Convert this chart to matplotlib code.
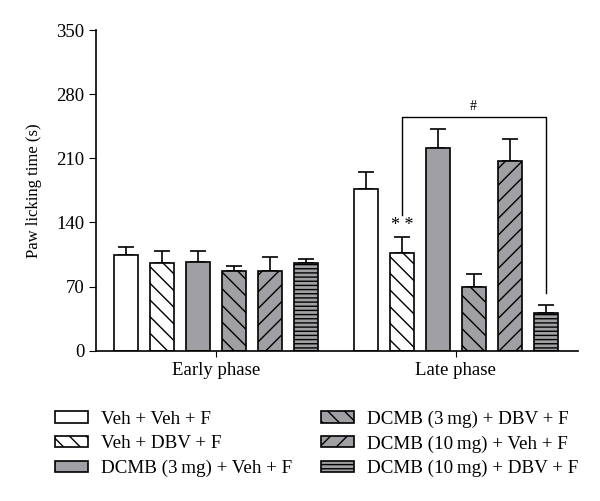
from matplotlib import pyplot as plt
from matplotlib.patches import Patch
import numpy as np

plt.rcParams['font.family'] = ['Liberation Serif', 'DejaVu Serif']

groups = ['Early phase', 'Late phase']
labels = ['Veh + Veh + F', 'Veh + DBV + F', 'DCMB (3\u2009mg) + Veh + F',
          'DCMB (3\u2009mg) + DBV + F', 'DCMB (10\u2009mg) + Veh + F', 'DCMB (10\u2009mg) + DBV + F']
early_mean = [104.5, 95.7, 97.1, 87.3, 86.7, 95.4]
early_sem = [8.4, 13.0, 11.7, 5.5, 15.6, 4.7]
late_mean = [176.1, 106.3, 220.9, 69.5, 207.4, 41.1]
late_sem = [18.6, 18.1, 21.4, 14.2, 24.0, 9.1]

gray = '#a0a0a4'
faces = ['white', 'white', gray, gray, gray, gray]
hatches = [None, '\\\\', None, '\\\\', '//', '----']

plt.rcParams['hatch.linewidth'] = 1.0

fig = plt.figure(figsize=(6, 5.01), dpi=100)
ax = fig.add_axes([0.16, 0.30, 0.803, 0.64])

width = 0.667
offset = 6.667
for i in range(6):
    for g, (means, sems) in enumerate([(early_mean, early_sem), (late_mean, late_sem)]):
        x = i + g * offset
        ax.bar(x, means[i], width, color=faces[i], edgecolor='black', linewidth=1.2,
               hatch=hatches[i], zorder=2)
        ax.errorbar(x, means[i], yerr=[[0], [sems[i]]], fmt='none', ecolor='black',
                    elinewidth=1.2, capsize=6, capthick=1.2, zorder=1)

# significance bracket between Veh + DBV + F and DCMB (10 mg) + DBV + F, late phase
x1 = 1 + offset
x2 = 5 + offset
ax.plot([x1, x1, x2, x2], [148, 255.5, 255.5, 63], color='black', linewidth=1)
ax.text((x1 + x2) / 2, 259, '#', ha='center', va='bottom', fontsize=10)
ax.text(x1, 127, '* *', ha='center', va='bottom', fontsize=13)

ax.set_xlim(-0.833, 12.56)
ax.set_ylim(0, 350)
ax.set_yticks(np.arange(0, 351, 70))
ax.set_xticks([2.5, 2.5 + offset])
ax.set_xticklabels(groups, fontsize=13.5)
ax.tick_params(axis='x', length=4, pad=4)
ax.tick_params(axis='y', labelsize=13.5, length=5)
ax.set_ylabel('Paw licking time (s)', fontsize=12, labelpad=10)
for s in ['top', 'right']:
    ax.spines[s].set_visible(False)
ax.spines['left'].set_linewidth(1.2)
ax.spines['bottom'].set_linewidth(1.2)

handles = [Patch(facecolor=faces[i], edgecolor='black', hatch=hatches[i], linewidth=1.2)
           for i in range(6)]
fig.legend(handles, labels, ncol=2, loc='upper left', bbox_to_anchor=(0.075, 0.2),
           frameon=False, fontsize=13.7, handlelength=1.75, handleheight=0.55,
           handletextpad=0.7, columnspacing=1.5, labelspacing=0.4, borderpad=0)

fig.savefig('out.png', dpi=100)
